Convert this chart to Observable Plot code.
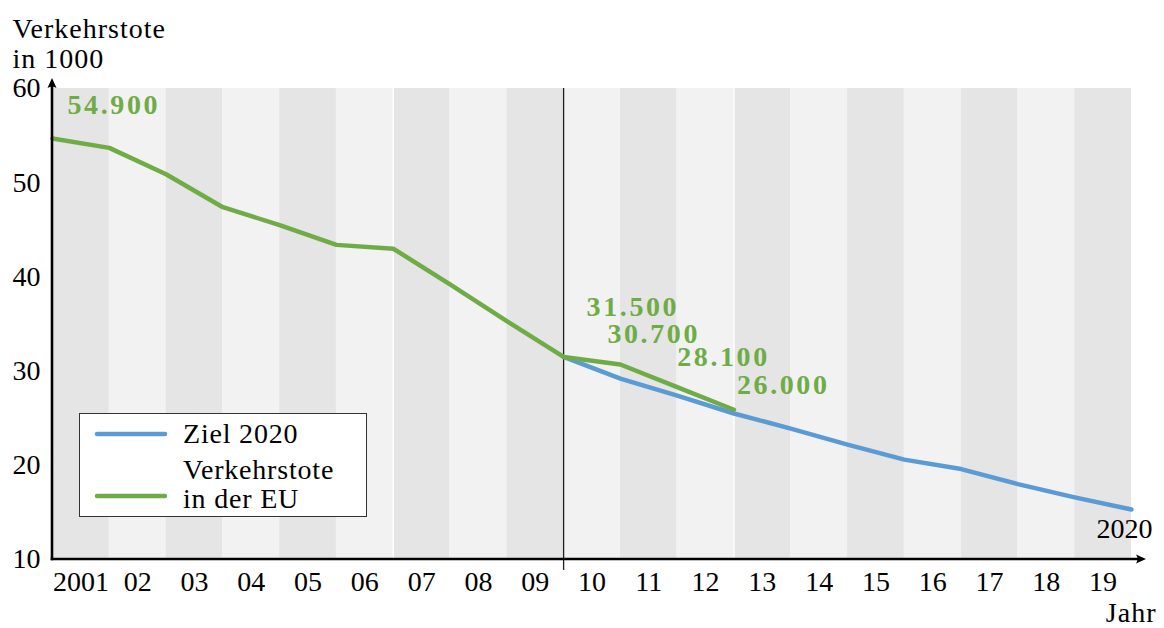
<!DOCTYPE html>
<html>
<head>
<meta charset="utf-8">
<script src="https://cdn.jsdelivr.net/npm/d3@7"></script>
<script src="https://cdn.jsdelivr.net/npm/@observablehq/plot@0.6"></script>
<style>
  html, body { margin: 0; padding: 0; background: #fff; }
  #wrap { position: relative; width: 1164px; height: 628px; font-family: 'Liberation Serif', 'DejaVu Serif', serif; }
  #wrap svg text { font-family: 'Liberation Serif', 'DejaVu Serif', serif; }
  #legend { position: absolute; left: 79px; top: 413px; width: 286px; height: 102px; border: 1px solid #333; background: #fff; }
</style>
</head>
<body>
<div id="wrap"></div>
<script>
// ---- data ----
const bandYears = [2001,2002,2003,2004,2005,2006,2007,2008,2009,2010,2011,2012,2013,2014,2015,2016,2017,2018,2019];
const xTickLabels = ["2001","02","03","04","05","06","07","08","09","10","11","12","13","14","15","16","17","18","19"];
const yTicks = [10, 20, 30, 40, 50, 60];

const euYears = [2001,2002,2003,2004,2005,2006,2007,2008,2009,2010,2011,2012,2013];
const euValues = [54.7, 53.7, 50.9, 47.4, 45.5, 43.4, 43.0, 39.2, 35.3, 31.5, 30.7, 28.3, 25.9];

const zielYears = [2010,2011,2012,2013,2014,2015,2016,2017,2018,2019,2020];
const zielValues = [31.5, 29.2, 27.4, 25.5, 23.9, 22.2, 20.6, 19.6, 18.0, 16.6, 15.3];

const valueLabelYears = [2001, 2010, 2011, 2012, 2013];
const valueLabelTexts = ["54.900", "31.500", "30.700", "28.100", "26.000"];

const splitYear = 2010;
const whiteRuleYears = [2007, 2013];
const endLabel = "2020";

const seriesNames = ["Ziel 2020", "Verkehrstote\nin der EU"];
const yTitle = "Verkehrstote\nin 1000";
const xTitle = "Jahr";

// ---- styles ----
const GREEN = "#6fac46";
const BLUE = "#5b9bd5";
const FONT = "'Liberation Serif', 'DejaVu Serif', serif";

const bands = bandYears.map((y, i) => ({x1: y, x2: y + 1, dark: i % 2 === 0}));
const eu = euYears.map((y, i) => ({year: y, value: euValues[i]}));
const ziel = zielYears.map((y, i) => ({year: y, value: zielValues[i]}));
const valueLabels = valueLabelYears.map((y, i) => ({year: y, value: euValues[euYears.indexOf(y)], text: valueLabelTexts[i]}));

// label offsets (pixels) relative to the data point
const labelOffsets = [[15, -33], [23, -50], [-13, -30], [0, -30], [3, -25]];

const axesArrows = (index, scales, values, dims) => {
  const {x, y} = scales;
  const x0 = x(2001), y0 = y(10);
  const xt = x(2020) + 15, yt = y(60) - 10;
  const g = d3.create("svg:g");
  g.append("line").attr("x1", x0 - 1.3).attr("x2", xt - 6).attr("y1", y0).attr("y2", y0)
    .attr("stroke", "#000").attr("stroke-width", 2.6);
  g.append("line").attr("x1", x0).attr("x2", x0).attr("y1", y0 + 1.3).attr("y2", yt + 6)
    .attr("stroke", "#000").attr("stroke-width", 2.6);
  g.append("path").attr("d", `M${xt},${y0} L${xt - 10},${y0 - 4.5} Q${xt - 7},${y0} ${xt - 10},${y0 + 4.5} Z`).attr("fill", "#000");
  g.append("path").attr("d", `M${x0},${yt} L${x0 - 4.5},${yt + 10} Q${x0},${yt + 7} ${x0 + 4.5},${yt + 10} Z`).attr("fill", "#000");
  return g.node();
};

const marks = [
  Plot.rect(bands, {x1: "x1", x2: "x2", y1: 10, y2: 60, fill: d => d.dark ? "#e5e5e5" : "#f2f2f2"}),
  Plot.ruleX(whiteRuleYears, {y1: 10, y2: 60, stroke: "#fff", strokeWidth: 1.5}),
  Plot.ruleX([splitYear], {stroke: "#222", strokeWidth: 1.3, insetBottom: -11}),
  Plot.line(ziel, {x: "year", y: "value", stroke: BLUE, strokeWidth: 4.5, strokeLinecap: "round", strokeLinejoin: "round"}),
  Plot.line(eu, {x: "year", y: "value", stroke: GREEN, strokeWidth: 4.5, strokeLinecap: "round", strokeLinejoin: "round"}),
  ...valueLabels.map((d, i) => Plot.text([d], {
    x: "year", y: "value", text: "text", fill: GREEN, fontWeight: "bold",
    textAnchor: "start", lineAnchor: "middle", dx: labelOffsets[i][0], dy: labelOffsets[i][1]
  })),
  Plot.text([ziel[ziel.length - 1]], {x: "year", y: "value", text: () => endLabel, textAnchor: "middle", lineAnchor: "middle", dx: -7, dy: 19, fill: "#000"}),
  Plot.axisY(yTicks, {tickSize: 0, tickPadding: 12, label: null, fill: "#000"}),
  Plot.axisX(bandYears.map(y => y + 0.5), {tickSize: 0, tickPadding: 12, label: null, fill: "#000",
    tickFormat: d => xTickLabels[Math.floor(d) - 2001]}),
  Plot.text([yTitle], {frameAnchor: "top-left", textAnchor: "start", lineAnchor: "bottom", dx: -40, dy: -21, lineHeight: 1.04, fill: "#000", fontStyle: "normal"}),
  Plot.text([xTitle], {frameAnchor: "bottom-right", textAnchor: "end", lineAnchor: "middle", dx: 25, dy: 54, fill: "#000", fontStyle: "normal"}),
  axesArrows
];

const chart = Plot.plot({
  width: 1164,
  height: 628,
  marginLeft: 52,
  marginRight: 33,
  marginTop: 88,
  marginBottom: 69,
  x: {type: "linear", domain: [2001, 2020]},
  y: {type: "linear", domain: [10, 60]},
  style: {fontFamily: FONT, fontSize: "28px", background: "#fff", overflow: "visible", color: "#000"},
  marks
});

// wider bold figures (approximating Computer Modern bold extended)
d3.select(chart).selectAll("text").filter(function() {
  return this.parentNode && this.parentNode.getAttribute("font-weight") === "bold";
}).attr("letter-spacing", "2.6px");
// slightly wider word texts (Computer Modern is wider than Times)
d3.select(chart).selectAll("text").filter(function() {
  return this.parentNode && this.parentNode.getAttribute("font-style") === "normal";
}).attr("letter-spacing", "1px");

const wrap = document.getElementById("wrap");
wrap.appendChild(chart);

// ---- legend ----
const legend = document.createElement("div");
legend.id = "legend";
const L = d3.select(legend).append("svg").attr("width", 286).attr("height", 102)
  .style("font-family", FONT).style("font-size", "28px");
const legendItems = [
  {name: seriesNames[0], color: BLUE, lineY: 20, textY: [29]},
  {name: seriesNames[1], color: GREEN, lineY: 82, textY: [65, 94]}
];
legendItems.forEach(it => {
  L.append("line").attr("x1", 17).attr("x2", 85).attr("y1", it.lineY).attr("y2", it.lineY)
    .attr("stroke", it.color).attr("stroke-width", 4.5).attr("stroke-linecap", "round");
  it.name.split("\n").forEach((t, j) => {
    L.append("text").attr("x", 103).attr("y", it.textY[j]).attr("fill", "#000")
      .attr("letter-spacing", "0.8px").text(t);
  });
});
wrap.appendChild(legend);
</script>
</body>
</html>
